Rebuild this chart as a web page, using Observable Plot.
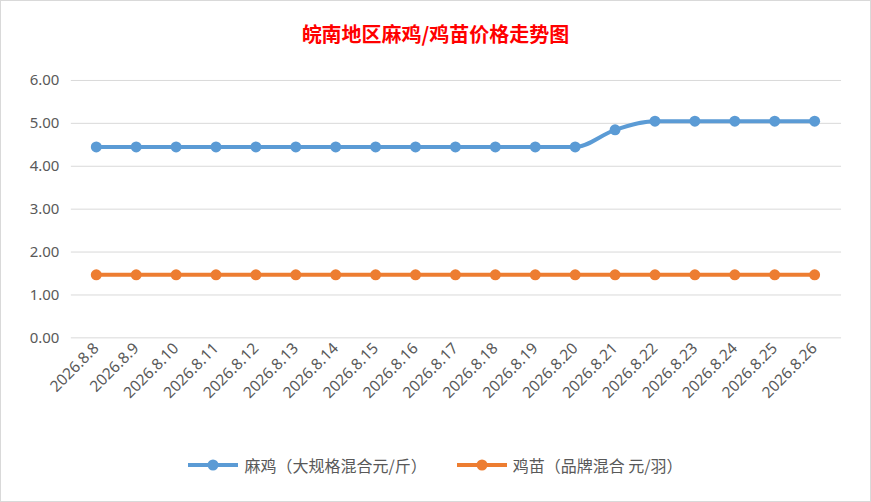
<!DOCTYPE html>
<html><head><meta charset="utf-8">
<script src="https://cdn.jsdelivr.net/npm/d3@7"></script>
<script src="https://cdn.jsdelivr.net/npm/@observablehq/plot@0.6"></script>
<style>
body{margin:0;font-family:"Noto Sans CJK SC","Noto Sans",sans-serif;}
#wrap{width:869px;height:500px;border:1px solid #d9d9d9;background:#fff;position:relative;}
#title{height:60px;line-height:66px;text-align:center;color:#ff0000;font-weight:bold;font-size:20px;}
#legend{display:flex;justify-content:center;gap:30px;font-size:16px;color:#595959;margin-top:8px;}
.item{display:flex;align-items:center;gap:6px;}
</style></head><body>
<div id="wrap">
<div id="title">皖南地区麻鸡/鸡苗价格走势图</div>
<div id="chart"></div>
<div id="legend"></div>
</div>
<script>
const dates = ["2026.8.8","2026.8.9","2026.8.10","2026.8.11","2026.8.12","2026.8.13","2026.8.14","2026.8.15","2026.8.16","2026.8.17","2026.8.18","2026.8.19","2026.8.20","2026.8.21","2026.8.22","2026.8.23","2026.8.24","2026.8.25","2026.8.26"];
const maji = [4.45,4.45,4.45,4.45,4.45,4.45,4.45,4.45,4.45,4.45,4.45,4.45,4.45,4.85,5.05,5.05,5.05,5.05,5.05];
const jimiao = [1.47,1.47,1.47,1.47,1.47,1.47,1.47,1.47,1.47,1.47,1.47,1.47,1.47,1.47,1.47,1.47,1.47,1.47,1.47];
const seriesNames = ["麻鸡（大规格混合元/斤）","鸡苗（品牌混合 元/羽）"];
const colors = ["#5b9bd5","#ed7d31"];
const yTicks = [0,1,2,3,4,5,6];
const data = [];
dates.forEach((d,i)=>{data.push({d,v:maji[i],s:seriesNames[0]});data.push({d,v:jimiao[i],s:seriesNames[1]});});
const chart = Plot.plot({
  width:871,height:385,marginTop:19,marginBottom:108,marginLeft:70,marginRight:29,
  style:{fontFamily:"Noto Sans, sans-serif",fontSize:"15px",color:"#595959"},
  x:{type:"point",domain:dates,range:[90,820],padding:0,label:null,tickSize:0,tickRotate:-45,tickPadding:8},
  y:{domain:[0,6],ticks:yTicks,tickFormat:d=>d.toFixed(2),label:null,tickSize:0,tickPadding:12},
  color:{domain:seriesNames,range:colors},
  marks:[
    Plot.gridY(yTicks,{stroke:"#d9d9d9",strokeOpacity:1}),
    Plot.line(data,{x:"d",y:"v",stroke:"s",strokeWidth:4,curve:"monotone-x"}),
    Plot.dot(data,{x:"d",y:"v",fill:"s",r:5.5,stroke:"none"})
  ]
});
chart.querySelectorAll('[aria-label="x-axis tick label"] text').forEach(t=>t.style.fontSize="15.5px");
document.getElementById("chart").appendChild(chart);
const lg=document.getElementById("legend");
seriesNames.forEach((n,i)=>{
  lg.insertAdjacentHTML("beforeend",`<div class="item"><svg width="50" height="14"><line x1="0" x2="50" y1="7" y2="7" stroke="${colors[i]}" stroke-width="4"/><circle cx="25" cy="7" r="5.5" fill="${colors[i]}"/></svg><span>${n}</span></div>`);
});
</script>
</body></html>
